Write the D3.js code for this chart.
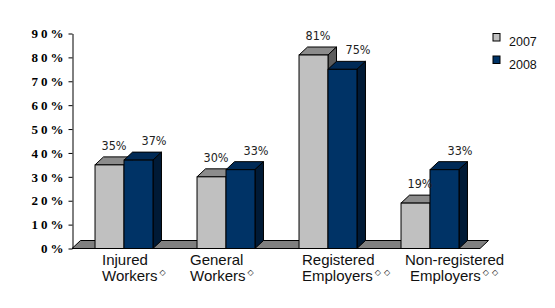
<!DOCTYPE html>
<html lang="en">
	<head>
		<meta charset="utf-8">
		<title>3D clustered columns 2007 / 2008</title>
		<script type="text/javascript" src="https://cdnjs.cloudflare.com/ajax/libs/d3/7.8.5/d3.min.js"></script>
		<style type="text/css">
			body { margin: 0; background: #ffffff; }
			svg { display: block; }
		</style>
	</head>
	<body>
		<script type="text/javascript">
			// data
			var categories = ["Injured Workers", "General Workers", "Registered Employers", "Non-registered Employers"];
			var labelLines = [["Injured", "Workers"], ["General", "Workers"], ["Registered", "Employers"], ["Non-registered", "Employers"]];
			var notes = ["\u25C7", "\u25C7", "\u25C7\u25C7", "\u25C7\u25C7"];
			var series = ["2007", "2008"];
			var values2007 = [35, 30, 81, 19];
			var values2008 = [37, 33, 75, 33];
			var yTicks = [0, 10, 20, 30, 40, 50, 60, 70, 80, 90];

			// layout
			var w = 555, h = 308;
			var dx = 8.5, dy = 8;          // 3d depth
			var labelLeft = [29, 15, 25, 26]; // start of category text from band start
			var valueDx = [19, 30];          // value label centre from bar's left edge

			var colors = {
				"2007": {front: "#c0c0c0", top: "#8c8c8c", side: "#5c5c5c"},
				"2008": {front: "#003366", top: "#002a56", side: "#001a36"}
			};

			var svg = d3.select("body").append("svg")
				.attr("width", w)
				.attr("height", h);

			var y = d3.scaleLinear().domain([0, 90]).range([248.5, 33.5]);
			var x0 = d3.scaleBand().domain(categories).range([73, 481]).padding(0);
			var x1 = d3.scaleBand().domain(series).range([0, x0.bandwidth()]).paddingInner(0).paddingOuter(0.76);

			var y0 = y(0);

			// floor
			svg.append("polygon")
				.attr("points", [[72, y0], [72 + dx, y0 - dy], [480 + dx, y0 - dy], [480, y0]].join(" "))
				.attr("fill", "#808080")
				.attr("stroke", "#000")
				.attr("stroke-width", 1);

			// y axis
			var yAxis = d3.axisLeft(y)
				.tickValues(yTicks)
				.tickSize(4)
				.tickSizeOuter(0)
				.tickFormat(function(d) { return d + "%"; });

			var gy = svg.append("g")
				.attr("transform", "translate(72.5,0)")
				.call(yAxis);
			gy.select(".domain").attr("stroke", "#000");
			gy.selectAll(".tick line").attr("stroke", "#000");
			gy.selectAll(".tick text")
				.attr("x", -6)
				.attr("font-family", "'Liberation Serif', 'Times New Roman', serif")
				.attr("font-weight", "bold")
				.attr("font-size", "13px")
				.attr("letter-spacing", "3px")
				.attr("fill", "#000");

			// bars
			var rows = categories.map(function(c, i) {
				return {cat: c, vals: [{s: "2007", v: values2007[i]}, {s: "2008", v: values2008[i]}]};
			});

			var bw = x1.bandwidth();

			var groups = svg.selectAll("g.grp")
				.data(rows)
				.enter()
				.append("g")
				.attr("class", "grp")
				.attr("transform", function(d) { return "translate(" + x0(d.cat) + ",0)"; });

			var bars = groups.selectAll("g.bar")
				.data(function(d) { return d.vals; })
				.enter()
				.append("g")
				.attr("class", "bar");

			bars.append("polygon")
				.attr("points", function(d) {
					var x = x1(d.s), t = y(d.v);
					return [[x, t], [x + dx, t - dy], [x + bw + dx, t - dy], [x + bw, t]].join(" ");
				})
				.attr("fill", function(d) { return colors[d.s].top; })
				.attr("stroke", "#000")
				.attr("stroke-linejoin", "round");

			bars.append("polygon")
				.attr("points", function(d) {
					var x = x1(d.s), t = y(d.v);
					return [[x + bw, t], [x + bw + dx, t - dy], [x + bw + dx, y0 - dy], [x + bw, y0]].join(" ");
				})
				.attr("fill", function(d) { return colors[d.s].side; })
				.attr("stroke", "#000")
				.attr("stroke-linejoin", "round");

			bars.append("rect")
				.attr("x", function(d) { return x1(d.s); })
				.attr("y", function(d) { return y(d.v); })
				.attr("width", bw)
				.attr("height", function(d) { return y0 - y(d.v); })
				.attr("fill", function(d) { return colors[d.s].front; })
				.attr("stroke", "#000");

			// value labels
			groups.selectAll("text.val")
				.data(function(d) { return d.vals; })
				.enter()
				.append("text")
				.attr("class", "val")
				.attr("x", function(d, i) { return x1(d.s) + valueDx[i]; })
				.attr("y", function(d) { return y(d.v) - dy - 7; })
				.attr("text-anchor", "middle")
				.attr("font-family", "'DejaVu Sans Condensed', 'DejaVu Sans', sans-serif")
				.attr("font-size", "12.5px")
				.attr("fill", "#222")
				.text(function(d) { return d.v + "%"; });

			// category labels
			var cl = svg.selectAll("text.cat")
				.data(categories)
				.enter()
				.append("text")
				.attr("class", "cat")
				.attr("font-family", "'Liberation Sans', Arial, sans-serif")
				.attr("font-size", "15px")
				.attr("fill", "#111");

			cl.append("tspan")
				.attr("x", function(d, i) { return x0(d) + labelLeft[i]; })
				.attr("y", 265)
				.text(function(d, i) { return labelLines[i][0]; });

			cl.append("tspan")
				.attr("x", function(d, i) { return x0(d) + labelLeft[i] + (i === 3 ? 5 : 0); })
				.attr("y", 281)
				.text(function(d, i) { return labelLines[i][1]; });

			cl.append("tspan")
				.attr("dx", 2)
				.attr("dy", -6)
				.attr("font-family", "'DejaVu Sans', sans-serif")
				.attr("font-size", "8px")
				.attr("letter-spacing", "3px")
				.text(function(d, i) { return notes[i]; });

			// legend
			var lg = svg.selectAll("g.leg")
				.data(series)
				.enter()
				.append("g")
				.attr("class", "leg")
				.attr("transform", function(d, i) { return "translate(493," + (33.5 + i * 22.5) + ")"; });

			lg.append("rect")
				.attr("width", 7)
				.attr("height", 7.5)
				.attr("fill", function(d) { return colors[d].front; })
				.attr("stroke", "#000");

			lg.append("text")
				.attr("x", 16)
				.attr("y", 12.5)
				.attr("font-family", "'Liberation Sans', Arial, sans-serif")
				.attr("font-size", "12.5px")
				.attr("fill", "#111")
				.text(function(d) { return d; });
		</script>
	</body>
</html>
